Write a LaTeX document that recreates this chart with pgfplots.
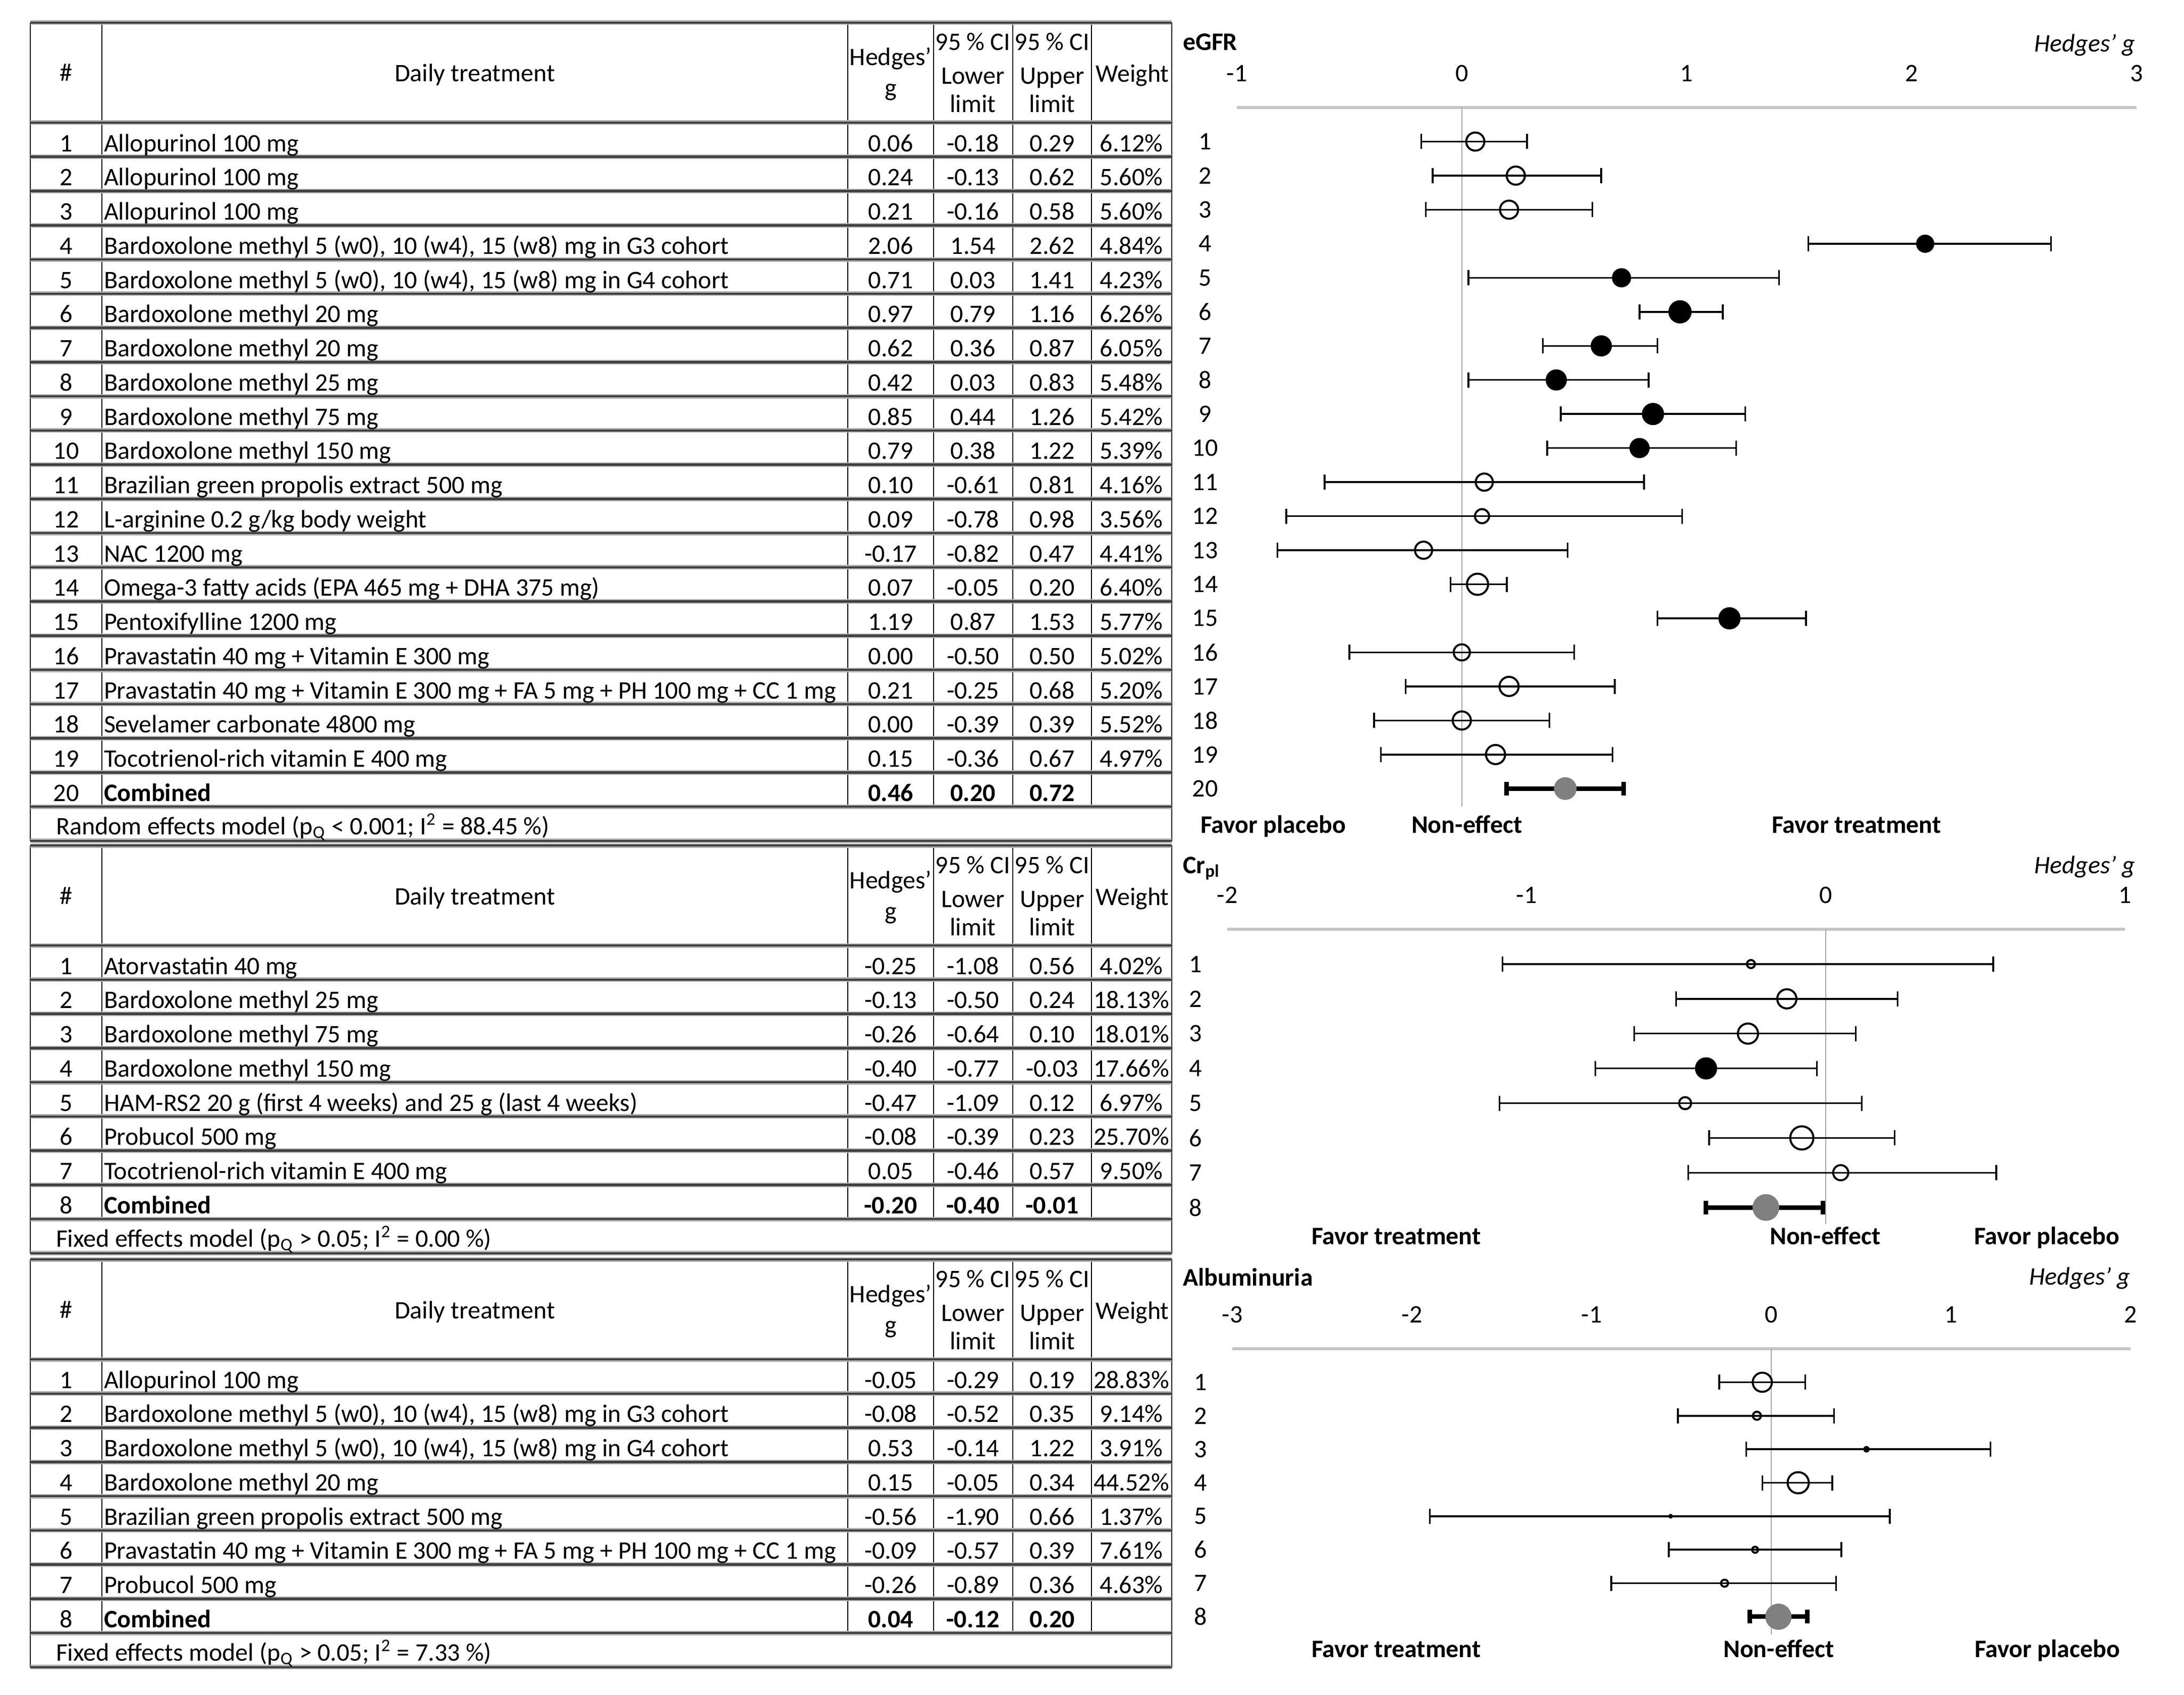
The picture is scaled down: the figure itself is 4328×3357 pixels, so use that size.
\documentclass[border=0pt]{standalone}
\usepackage{fontspec}
\setmainfont{Carlito}
\usepackage{pgfplots}
\usepackage{pgfplotstable}
\pgfplotsset{compat=1.18}

% forest plot data: row, Hedges' g, CI lower, CI upper, marker radius (pt), class
\pgfplotstableread{
row g lo hi r c
1 0.06 -0.18 0.29 3.6 o
2 0.24 -0.13 0.62 3.6 o
3 0.21 -0.16 0.58 3.6 o
4 2.06 1.54 2.62 3.2 f
5 0.71 0.03 1.41 3.4 f
6 0.97 0.79 1.16 4.2 f
7 0.62 0.36 0.87 3.8 f
8 0.42 0.03 0.83 3.8 f
9 0.85 0.44 1.26 4.0 f
10 0.79 0.38 1.22 3.6 f
11 0.10 -0.61 0.81 3.4 o
12 0.09 -0.78 0.98 2.8 o
13 -0.17 -0.82 0.47 3.4 o
14 0.07 -0.05 0.20 4.2 o
15 1.19 0.87 1.53 4.0 f
16 0.00 -0.50 0.50 3.2 o
17 0.21 -0.25 0.68 3.8 o
18 0.00 -0.39 0.39 3.6 o
19 0.15 -0.36 0.67 3.8 o
}\egfr
\pgfplotstableread{
row g lo hi r c
20 0.46 0.20 0.72 4.3 c
}\egfrcomb
\pgfplotstableread{
row g lo hi r c
1 -0.25 -1.08 0.56 1.6 o
2 -0.13 -0.50 0.24 3.8 o
3 -0.26 -0.64 0.10 4.0 o
4 -0.40 -0.77 -0.03 4.0 f
5 -0.47 -1.09 0.12 2.4 o
6 -0.08 -0.39 0.23 4.6 o
7 0.05 -0.46 0.57 3.0 o
}\crpl
\pgfplotstableread{
row g lo hi r c
8 -0.20 -0.40 -0.01 5.1 c
}\crplcomb
\pgfplotstableread{
row g lo hi r c
1 -0.05 -0.29 0.19 3.8 o
2 -0.08 -0.52 0.35 1.6 o
3 0.53 -0.14 1.22 0.9 o
4 0.15 -0.05 0.34 4.2 o
5 -0.56 -1.90 0.66 0.5 o
6 -0.09 -0.57 0.39 1.2 o
7 -0.26 -0.89 0.36 1.4 o
}\alb
\pgfplotstableread{
row g lo hi r c
8 0.04 -0.12 0.20 5.0 c
}\albcomb

\pgfplotsset{
  forest/.style={scale only axis, anchor=north west, clip=false,
    y dir=reverse, ymin=0,
    axis line style={draw=none}, major tick length=0pt,
    /pgf/number format/assume math mode=true,
    xtick distance=1, xticklabel pos=upper,
    xticklabel style={anchor=center, yshift=13.6pt},
    yticklabel style={anchor=center, xshift=-12.6pt}},
  bars/.style={draw=none, mark=none, forget plot,
    error bars/.cd, x dir=both, x explicit,
    error bar style={draw=black, line width=0.7pt},
    error mark options={rotate=90, mark size=3pt, line width=0.7pt, black}},
  combbars/.style={draw=none, mark=none, forget plot,
    error bars/.cd, x dir=both, x explicit,
    error bar style={draw=black, line width=1.8pt},
    error mark options={rotate=90, mark size=2.7pt, line width=1.8pt, black}},
  dots/.style={scatter, only marks, point meta=explicit symbolic,
    scatter/classes={
      o={mark=o, draw=black, line width=0.8pt},
      f={mark=*, draw=black, fill=black, line width=0.8pt},
      c={mark=*, draw=gray, fill=gray, line width=0.4pt}},
    visualization depends on={\thisrow{r} \as \rad},
    scatter/@pre marker code/.append style={/tikz/mark size=\rad pt}},
}

% table drawing helpers, coordinates in source pixels
\newcommand\Hdr[1]{%
  \node[anchor=base] at (131,#1+116) {\#};
  \node[anchor=base] at (941,#1+117) {Daily treatment};
  \node[anchor=base] at (1765,#1+85) {Hedges'};
  \node[anchor=base] at (1765,#1+146) {g};
  \node[anchor=base] at (1928,#1+55) {95 \% CI};
  \node[anchor=base] at (1928,#1+122) {Lower};
  \node[anchor=base] at (1928,#1+178) {limit};
  \node[anchor=base] at (2085,#1+55) {95 \% CI};
  \node[anchor=base] at (2085,#1+122) {Upper};
  \node[anchor=base] at (2085,#1+178) {limit};
  \node[anchor=base] at (2244,#1+118) {Weight};}
\newcommand\R[6]{%
  \node[anchor=base] at (131,\T+187.25+#1*67.75) {#1};
  \node[anchor=base west] at (205,\T+187.25+#1*67.75) {#2};
  \node[anchor=base] at (1765,\T+187.25+#1*67.75) {#3};
  \node[anchor=base] at (1928,\T+187.25+#1*67.75) {#4};
  \node[anchor=base] at (2085,\T+187.25+#1*67.75) {#5};
  \node[anchor=base] at (2242,\T+187.25+#1*67.75) {#6};}
\newcommand\Grid[3]{% top, rows, footer text
  \pgfmathsetmacro\yb{#1+198+#2*67.75}
  \pgfmathsetmacro\yf{#1+198+(#2+1)*67.75}
  \pgfmathtruncatemacro\nn{#2+1}
  \foreach \x in {202,1680,1850,2007,2163} \draw[vl] (\x,#1) -- (\x,\yb);
  \draw[vl] (60,#1) -- (60,\yf);
  \draw[vl] (2322,#1) -- (2322,\yf);
  \draw[hl] (60,#1) -- (2322,#1);
  \foreach \i in {0,...,\nn} \draw[hl] (60,#1+198+\i*67.75) -- (2322,#1+198+\i*67.75);
  \node[anchor=base west] at (110,\yb+55) {#3};}

\begin{document}
\begin{tikzpicture}
\begin{scope}[x=0.2pt, y=-0.2pt, every node/.style={inner sep=0pt},
  vl/.style={line width=0.5pt, black},
  hl/.style={line width=0.9pt, black!75, preaction={draw=black!30, line width=1.8pt}}]
\path[use as bounding box] (0,0) rectangle (4328,3357);

% table 1: eGFR
\def\T{45}
\Grid{45}{20}{Random effects model (p\textsubscript{Q} < 0.001; I\textsuperscript{2} = 88.45 \%)}
\Hdr{45}
\R{1}{Allopurinol 100 mg}{0.06}{-0.18}{0.29}{6.12\%}
\R{2}{Allopurinol 100 mg}{0.24}{-0.13}{0.62}{5.60\%}
\R{3}{Allopurinol 100 mg}{0.21}{-0.16}{0.58}{5.60\%}
\R{4}{Bardoxolone methyl 5 (w0), 10 (w4), 15 (w8) mg in G3 cohort}{2.06}{1.54}{2.62}{4.84\%}
\R{5}{Bardoxolone methyl 5 (w0), 10 (w4), 15 (w8) mg in G4 cohort}{0.71}{0.03}{1.41}{4.23\%}
\R{6}{Bardoxolone methyl 20 mg}{0.97}{0.79}{1.16}{6.26\%}
\R{7}{Bardoxolone methyl 20 mg}{0.62}{0.36}{0.87}{6.05\%}
\R{8}{Bardoxolone methyl 25 mg}{0.42}{0.03}{0.83}{5.48\%}
\R{9}{Bardoxolone methyl 75 mg}{0.85}{0.44}{1.26}{5.42\%}
\R{10}{Bardoxolone methyl 150 mg}{0.79}{0.38}{1.22}{5.39\%}
\R{11}{Brazilian green propolis extract 500 mg}{0.10}{-0.61}{0.81}{4.16\%}
\R{12}{L-arginine 0.2 g/kg body weight}{0.09}{-0.78}{0.98}{3.56\%}
\R{13}{NAC 1200 mg}{-0.17}{-0.82}{0.47}{4.41\%}
\R{14}{Omega-3 fatty acids (EPA 465 mg + DHA 375 mg)}{0.07}{-0.05}{0.20}{6.40\%}
\R{15}{Pentoxifylline 1200 mg}{1.19}{0.87}{1.53}{5.77\%}
\R{16}{Pravastatin 40 mg + Vitamin E 300 mg}{0.00}{-0.50}{0.50}{5.02\%}
\R{17}{Pravastatin 40 mg + Vitamin E 300 mg + FA 5 mg + PH 100 mg + CC 1 mg}{0.21}{-0.25}{0.68}{5.20\%}
\R{18}{Sevelamer carbonate 4800 mg}{0.00}{-0.39}{0.39}{5.52\%}
\R{19}{Tocotrienol-rich vitamin E 400 mg}{0.15}{-0.36}{0.67}{4.97\%}
\R{20}{\textbf{Combined}}{\textbf{0.46}}{\textbf{0.20}}{\textbf{0.72}}{}

% table 2: Cr_pl
\def\T{1675}
\Grid{1675}{8}{Fixed effects model (p\textsubscript{Q} > 0.05; I\textsuperscript{2} = 0.00 \%)}
\Hdr{1675}
\R{1}{Atorvastatin 40 mg}{-0.25}{-1.08}{0.56}{4.02\%}
\R{2}{Bardoxolone methyl 25 mg}{-0.13}{-0.50}{0.24}{18.13\%}
\R{3}{Bardoxolone methyl 75 mg}{-0.26}{-0.64}{0.10}{18.01\%}
\R{4}{Bardoxolone methyl 150 mg}{-0.40}{-0.77}{-0.03}{17.66\%}
\R{5}{HAM-RS2 20 g (first 4 weeks) and 25 g (last 4 weeks)}{-0.47}{-1.09}{0.12}{6.97\%}
\R{6}{Probucol 500 mg}{-0.08}{-0.39}{0.23}{25.70\%}
\R{7}{Tocotrienol-rich vitamin E 400 mg}{0.05}{-0.46}{0.57}{9.50\%}
\R{8}{\textbf{Combined}}{\textbf{-0.20}}{\textbf{-0.40}}{\textbf{-0.01}}{}

% table 3: albuminuria
\def\T{2495}
\Grid{2495}{8}{Fixed effects model (p\textsubscript{Q} > 0.05; I\textsuperscript{2} = 7.33 \%)}
\Hdr{2495}
\R{1}{Allopurinol 100 mg}{-0.05}{-0.29}{0.19}{28.83\%}
\R{2}{Bardoxolone methyl 5 (w0), 10 (w4), 15 (w8) mg in G3 cohort}{-0.08}{-0.52}{0.35}{9.14\%}
\R{3}{Bardoxolone methyl 5 (w0), 10 (w4), 15 (w8) mg in G4 cohort}{0.53}{-0.14}{1.22}{3.91\%}
\R{4}{Bardoxolone methyl 20 mg}{0.15}{-0.05}{0.34}{44.52\%}
\R{5}{Brazilian green propolis extract 500 mg}{-0.56}{-1.90}{0.66}{1.37\%}
\R{6}{Pravastatin 40 mg + Vitamin E 300 mg + FA 5 mg + PH 100 mg + CC 1 mg}{-0.09}{-0.57}{0.39}{7.61\%}
\R{7}{Probucol 500 mg}{-0.26}{-0.89}{0.36}{4.63\%}
\R{8}{\textbf{Combined}}{\textbf{0.04}}{\textbf{-0.12}}{\textbf{0.20}}{}

% plot titles and side labels
\node[anchor=base west, font=\bfseries] at (2343,100) {eGFR};
\node[anchor=base east, font=\itshape] at (4232,103) {Hedges’ g};
\node[anchor=base west, font=\bfseries] at (2378,1650) {Favor placebo};
\node[anchor=base west, font=\bfseries] at (2796,1650) {Non-effect};
\node[anchor=base west, font=\bfseries] at (3510,1650) {Favor treatment};

\node[anchor=base west, font=\bfseries] at (2343,1730) {Cr\textsubscript{pl}};
\node[anchor=base east, font=\itshape] at (4232,1730) {Hedges’ g};
\node[anchor=base west, font=\bfseries] at (2598,2465) {Favor treatment};
\node[anchor=base west, font=\bfseries] at (3506,2465) {Non-effect};
\node[anchor=base west, font=\bfseries] at (3911,2465) {Favor placebo};

\node[anchor=base west, font=\bfseries] at (2343,2547) {Albuminuria};
\node[anchor=base east, font=\itshape] at (4222,2545) {Hedges’ g};
\node[anchor=base west, font=\bfseries] at (2598,3283) {Favor treatment};
\node[anchor=base west, font=\bfseries] at (3414,3283) {Non-effect};
\node[anchor=base west, font=\bfseries] at (3912,3283) {Favor placebo};
\end{scope}

% eGFR
\begin{axis}[forest, at={(490.2pt,-42.6pt)}, width=356.6pt, height=277pt,
  xmin=-1, xmax=3, ymax=20.53, ytick={1,...,20}]
\addplot[gray!45, line width=1.2pt, forget plot] coordinates {(-1,0) (3,0)};
\addplot[gray!70, line width=0.4pt, forget plot] coordinates {(0,0) (0,20.53)};
\addplot[bars] table[x=g, y=row, x error plus expr=\thisrow{hi}-\thisrow{g},
  x error minus expr=\thisrow{g}-\thisrow{lo}] {\egfr};
\addplot[combbars] table[x=g, y=row, x error plus expr=\thisrow{hi}-\thisrow{g},
  x error minus expr=\thisrow{g}-\thisrow{lo}] {\egfrcomb};
\addplot[dots] table[x=g, y=row, meta=c] {\egfr};
\addplot[dots] table[x=g, y=row, meta=c] {\egfrcomb};
\end{axis}

% Cr_pl
\begin{axis}[forest, at={(486.4pt,-368.2pt)}, width=355.8pt, height=116.7pt,
  xmin=-2, xmax=1, ymax=8.47, ytick={1,...,8}]
\addplot[gray!45, line width=1.2pt, forget plot] coordinates {(-2,0) (1,0)};
\addplot[gray!70, line width=0.4pt, forget plot] coordinates {(0,0) (0,8.47)};
\addplot[bars] table[x=g, y=row, x error plus expr=\thisrow{hi}-\thisrow{g},
  x error minus expr=\thisrow{g}-\thisrow{lo}] {\crpl};
\addplot[combbars] table[x=g, y=row, x error plus expr=\thisrow{hi}-\thisrow{g},
  x error minus expr=\thisrow{g}-\thisrow{lo}] {\crplcomb};
\addplot[dots] table[x=g, y=row, meta=c] {\crpl};
\addplot[dots] table[x=g, y=row, meta=c] {\crplcomb};
\end{axis}

% albuminuria
\begin{axis}[forest, at={(488.4pt,-534.4pt)}, width=356pt, height=113.2pt,
  xmin=-3, xmax=2, ymax=8.53, ytick={1,...,8}]
\addplot[gray!45, line width=1.2pt, forget plot] coordinates {(-3,0) (2,0)};
\addplot[gray!70, line width=0.4pt, forget plot] coordinates {(0,0) (0,8.53)};
\addplot[bars] table[x=g, y=row, x error plus expr=\thisrow{hi}-\thisrow{g},
  x error minus expr=\thisrow{g}-\thisrow{lo}] {\alb};
\addplot[combbars] table[x=g, y=row, x error plus expr=\thisrow{hi}-\thisrow{g},
  x error minus expr=\thisrow{g}-\thisrow{lo}] {\albcomb};
\addplot[dots] table[x=g, y=row, meta=c] {\alb};
\addplot[dots] table[x=g, y=row, meta=c] {\albcomb};
\end{axis}
\end{tikzpicture}
\end{document}
